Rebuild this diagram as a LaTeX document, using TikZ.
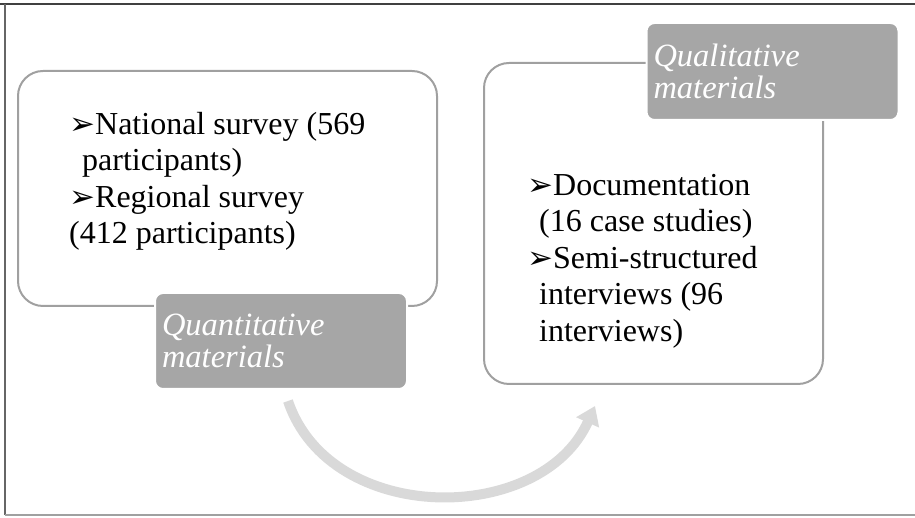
\documentclass[tikz,border=0pt]{standalone}
\usepackage{fontspec}
\setmainfont{Liberation Serif}
\newfontfamily\bulfont{DejaVu Sans}
\usepackage{tikz}
\usetikzlibrary{shapes,arrows,arrows.meta,positioning}
\definecolor{boxline}{HTML}{A0A0A0}
\definecolor{labelfill}{HTML}{A6A6A6}
\definecolor{arcgray}{HTML}{D9D9D9}
\tikzstyle{block} = [rectangle, draw=boxline, line width=2pt, rounded corners=25pt, fill=white]
\tikzstyle{tag} = [rectangle, fill=labelfill, draw=white, line width=2pt, rounded corners=8pt,
    text=white, text width=238pt, inner xsep=7pt, inner ysep=0pt, align=left,
    font=\fontsize{32.5}{32}\selectfont\itshape]
\tikzstyle{items} = [inner sep=0pt, align=left, anchor=north west,
    font=\fontsize{32}{36.5}\selectfont]
\tikzstyle{flow} = [draw=arcgray, line width=10pt, -{Triangle[width=24pt,length=18pt]}]
\newcommand{\bul}{{\bulfont\fontsize{31}{31}\selectfont ➢}}

\begin{document}
\begin{tikzpicture}[x=1pt, y=1pt]
    \useasboundingbox (0,0) rectangle (915,518);
    % Frame
    \draw [line width=2pt, color=black!75] (0,514) -- (915,514);
    \draw [line width=2pt, color=black!60] (5,514) -- (5,3);
    \draw [line width=1.5pt, color=boxline] (5,3) -- (915,3);

    % Place boxes
    \node [block, minimum width=419pt, minimum height=235pt] (quan) at (227.5,329.5) {};
    \node [block, minimum width=339pt, minimum height=321pt] (qual) at (653.5,294.5) {};

    % Box texts
    \node [items] (quantext) at (69,406) {\bul National survey (569\\
        \hspace*{13pt}participants)\\
        \bul Regional survey\\
        (412 participants)};
    \node [items] (qualtext) at (527,344) {\bul Documentation\\
        \hspace*{12pt}(16 case studies)\\
        \bul Semi-structured\\
        \hspace*{12pt}interviews (96\\
        \hspace*{12pt}interviews)};

    % Labels
    \node [tag, minimum height=96pt] (quanlabel) at (281,177) {Quantitative\\materials};
    \node [tag, minimum height=97pt] (quallabel) at (772.5,446.5) {Qualitative\\materials};

    % Draw the arc
    \coordinate (arcstart) at ([xshift=7pt,yshift=-11pt]quanlabel.south);
    \coordinate (arcend) at ([xshift=112pt,yshift=-21pt]qual.south west);
    \path [flow] (arcstart) .. controls (330,-8) and (541,-8) .. (arcend);
\end{tikzpicture}
\end{document}
